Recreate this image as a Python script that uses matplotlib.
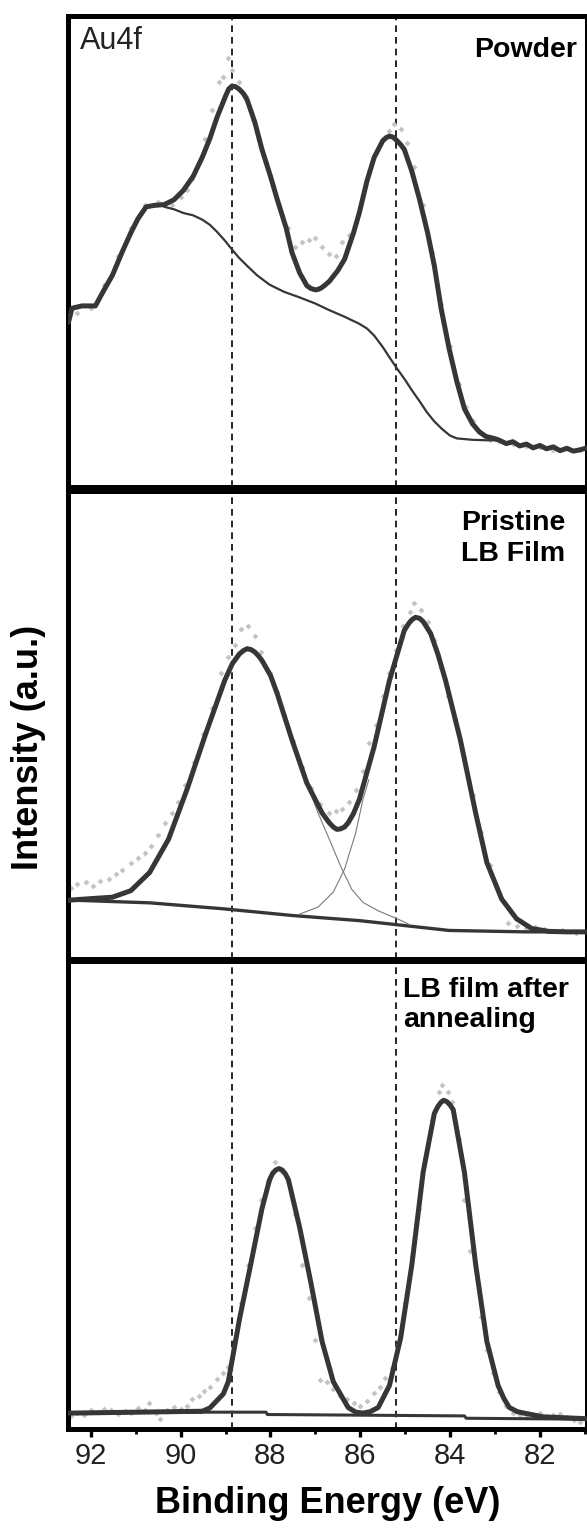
"""Au4f XPS spectra: powder, pristine LB film, LB film after annealing."""
import matplotlib
matplotlib.use("Agg")
import matplotlib.pyplot as plt
from matplotlib.ticker import MultipleLocator

plt.rcParams['font.family'] = ['Liberation Sans', 'DejaVu Sans']

# reference binding energies (dashed lines), eV
ref_lines = [88.85, 85.2]

# ---- panel 1: powder (intensity normalised to panel height) ----
p1_env_e = [92.50, 92.42, 92.20, 91.90, 91.70, 91.52, 91.30, 91.11, 90.95, 90.77,
            90.60, 90.36, 90.15, 89.94, 89.72, 89.52, 89.35, 89.19, 89.00, 88.93,
            88.86, 88.78, 88.70, 88.60, 88.52, 88.35, 88.19, 88.00, 87.85, 87.65,
            87.52, 87.35, 87.19, 87.10, 87.00, 86.94, 86.87, 86.80, 86.69, 86.50,
            86.35, 86.15, 86.02, 85.85, 85.69, 85.50, 85.42, 85.35, 85.27, 85.20,
            85.10, 85.02, 84.85, 84.68, 84.50, 84.35, 84.20, 84.02, 83.85, 83.68,
            83.50, 83.35, 83.20, 83.02, 82.90, 82.75, 82.60, 82.45, 82.30, 82.15,
            82.00, 81.85, 81.70, 81.55, 81.40, 81.25, 81.10, 80.95]
p1_env_i = [0.350, 0.380, 0.385, 0.385, 0.420, 0.450, 0.500, 0.540, 0.570, 0.595,
            0.598, 0.600, 0.610, 0.630, 0.660, 0.700, 0.740, 0.785, 0.830, 0.845,
            0.851, 0.850, 0.845, 0.835, 0.822, 0.775, 0.717, 0.660, 0.611, 0.550,
            0.498, 0.455, 0.428, 0.422, 0.419, 0.420, 0.423, 0.428, 0.437, 0.460,
            0.484, 0.540, 0.583, 0.650, 0.700, 0.735, 0.742, 0.745, 0.743, 0.737,
            0.727, 0.717, 0.670, 0.611, 0.540, 0.470, 0.380, 0.294, 0.225, 0.167,
            0.135, 0.118, 0.108, 0.104, 0.100, 0.093, 0.097, 0.088, 0.092, 0.084,
            0.089, 0.082, 0.086, 0.078, 0.083, 0.077, 0.080, 0.084]
p1_bg_e = [90.36, 90.15, 89.94, 89.72, 89.52, 89.35, 89.19, 89.02, 88.86, 88.70,
           88.52, 88.30, 88.02, 87.70, 87.35, 87.00, 86.69, 86.35, 86.02, 85.85,
           85.69, 85.50, 85.35, 85.18, 85.00, 84.85, 84.68, 84.52, 84.35, 84.18,
           84.00, 83.85, 83.50, 83.18, 82.95]
p1_bg_i = [0.595, 0.590, 0.582, 0.577, 0.568, 0.557, 0.542, 0.524, 0.505, 0.487,
           0.470, 0.450, 0.430, 0.415, 0.403, 0.390, 0.376, 0.362, 0.347, 0.337,
           0.322, 0.298, 0.276, 0.252, 0.228, 0.206, 0.183, 0.160, 0.140, 0.124,
           0.110, 0.104, 0.101, 0.100, 0.100]
p1_raw_e = [92.30, 92.00, 91.70, 91.40, 91.10, 90.80, 90.50, 90.20, 90.00, 89.85,
            89.75, 89.60, 89.45, 89.30, 89.15, 89.05, 88.95, 88.85, 88.70, 88.55,
            88.40, 88.25, 88.10, 87.95, 87.80, 87.60, 87.45, 87.30, 87.15, 87.00,
            86.85, 86.70, 86.55, 86.40, 86.25, 86.10, 85.95, 85.80, 85.65, 85.50,
            85.35, 85.25, 85.10, 84.95, 84.80, 84.60, 84.40, 84.20, 84.00, 83.80,
            83.65, 83.50, 83.30, 83.10, 82.90, 82.60, 82.30, 82.00, 81.70, 81.40, 81.10]
p1_raw_i = [0.370, 0.380, 0.430, 0.490, 0.550, 0.600, 0.605, 0.600, 0.615, 0.630,
            0.655, 0.690, 0.740, 0.800, 0.860, 0.870, 0.910, 0.885, 0.860, 0.830,
            0.780, 0.740, 0.690, 0.640, 0.600, 0.550, 0.510, 0.520, 0.525, 0.530,
            0.510, 0.495, 0.490, 0.520, 0.535, 0.560, 0.620, 0.670, 0.710, 0.740,
            0.755, 0.770, 0.760, 0.730, 0.680, 0.600, 0.500, 0.390, 0.300, 0.220,
            0.170, 0.140, 0.115, 0.100, 0.098, 0.092, 0.088, 0.085, 0.080, 0.083, 0.079]

# ---- panel 2: pristine LB film ----
p2_env_e = [92.50, 92.44, 92.00, 91.52, 91.11, 90.69, 90.27, 89.86, 89.44, 89.02,
            88.85, 88.69, 88.60, 88.52, 88.43, 88.35, 88.27, 88.19, 88.00, 87.85,
            87.52, 87.19, 86.85, 86.69, 86.60, 86.52, 86.44, 86.35, 86.27, 86.15,
            86.02, 85.69, 85.35, 85.02, 84.92, 84.85, 84.77, 84.68, 84.60, 84.52,
            84.43, 84.27, 84.10, 83.77, 83.43, 83.18, 82.85, 82.52, 82.18, 81.80,
            81.40, 80.95]
p2_env_i = [0.124, 0.125, 0.128, 0.131, 0.145, 0.184, 0.255, 0.361, 0.481, 0.594,
            0.630, 0.651, 0.658, 0.662, 0.660, 0.655, 0.647, 0.637, 0.605, 0.566,
            0.467, 0.375, 0.311, 0.290, 0.281, 0.276, 0.277, 0.281, 0.290, 0.310,
            0.340, 0.453, 0.594, 0.701, 0.716, 0.724, 0.729, 0.727, 0.720, 0.708,
            0.694, 0.650, 0.594, 0.467, 0.311, 0.205, 0.127, 0.085, 0.064, 0.058,
            0.057, 0.057]
p2_bg_e = [92.50, 90.69, 89.02, 87.52, 86.02, 85.35, 84.02, 82.35, 80.95]
p2_bg_i = [0.125, 0.119, 0.106, 0.092, 0.081, 0.074, 0.060, 0.057, 0.057]
p2_c1_e = [87.19, 86.94, 86.69, 86.44, 86.19, 85.94, 85.60, 85.18, 84.93]
p2_c1_i = [0.375, 0.311, 0.255, 0.198, 0.148, 0.120, 0.102, 0.085, 0.074]
p2_c2_e = [85.81, 85.94, 86.10, 86.35, 86.60, 86.94, 87.35]
p2_c2_i = [0.382, 0.340, 0.269, 0.191, 0.142, 0.110, 0.095]
p2_raw_e = [92.45, 92.30, 92.10, 91.95, 91.80, 91.60, 91.45, 91.30, 91.10, 90.95,
            90.80, 90.65, 90.50, 90.35, 90.20, 90.05, 89.90, 89.70, 89.50, 89.30,
            89.10, 88.95, 88.80, 88.65, 88.50, 88.35, 88.20, 88.00, 87.85, 87.70,
            87.50, 87.30, 87.10, 86.90, 86.70, 86.55, 86.40, 86.25, 86.10, 85.95,
            85.80, 85.65, 85.50, 85.35, 85.20, 85.05, 84.90, 84.80, 84.65, 84.50,
            84.35, 84.20, 84.05, 83.90, 83.70, 83.50, 83.30, 83.10, 82.90, 82.70,
            82.50, 82.30, 82.10, 81.90, 81.70, 81.50, 81.20]
p2_raw_i = [0.150, 0.160, 0.163, 0.155, 0.165, 0.170, 0.180, 0.190, 0.205, 0.215,
            0.225, 0.240, 0.265, 0.290, 0.310, 0.335, 0.370, 0.420, 0.480, 0.535,
            0.610, 0.645, 0.670, 0.705, 0.710, 0.690, 0.655, 0.610, 0.570, 0.520,
            0.465, 0.410, 0.365, 0.330, 0.310, 0.315, 0.320, 0.335, 0.360, 0.400,
            0.460, 0.500, 0.560, 0.610, 0.660, 0.710, 0.740, 0.760, 0.745, 0.720,
            0.680, 0.620, 0.560, 0.510, 0.430, 0.350, 0.270, 0.200, 0.140, 0.075,
            0.070, 0.065, 0.068, 0.063, 0.058, 0.060, 0.055]

# ---- panel 3: LB film after annealing ----
p3_env_e = [92.50, 92.44, 89.52, 89.35, 89.19, 89.05, 88.94, 88.69, 88.44, 88.19,
            88.02, 87.95, 87.88, 87.81, 87.74, 87.67, 87.60, 87.35, 87.10, 86.85,
            86.60, 86.27, 86.10, 85.94, 85.78, 85.60, 85.35, 85.10, 84.85, 84.60,
            84.35, 84.27, 84.20, 84.14, 84.07, 84.00, 83.93, 83.68, 83.43, 83.18,
            82.93, 82.80, 82.68, 82.50, 82.35, 81.93, 80.95]
p3_env_i = [0.034, 0.034, 0.038, 0.045, 0.061, 0.075, 0.101, 0.235, 0.352, 0.471,
            0.533, 0.547, 0.554, 0.557, 0.554, 0.546, 0.533, 0.431, 0.313, 0.187,
            0.101, 0.046, 0.036, 0.034, 0.037, 0.046, 0.093, 0.195, 0.352, 0.549,
            0.675, 0.690, 0.699, 0.703, 0.700, 0.693, 0.683, 0.549, 0.352, 0.187,
            0.093, 0.065, 0.046, 0.037, 0.034, 0.026, 0.022]
p3_bg_e = [92.50, 89.52, 88.10, 88.07, 83.68, 83.64, 80.95]
p3_bg_i = [0.034, 0.036, 0.036, 0.031, 0.028, 0.023, 0.021]
p3_raw_e = [92.45, 92.30, 92.15, 92.00, 91.85, 91.70, 91.55, 91.40, 91.25, 91.10,
            90.95, 90.80, 90.70, 90.55, 90.45, 90.30, 90.15, 90.00, 89.85, 89.75,
            89.60, 89.48, 89.35, 89.20, 89.05, 88.94, 88.80, 88.65, 88.50, 88.35,
            88.20, 88.05, 87.90, 87.75, 87.60, 87.45, 87.30, 87.15, 87.00, 86.89,
            86.75, 86.60, 86.45, 86.30, 86.15, 86.00, 85.85, 85.70, 85.55, 85.44,
            85.30, 85.15, 85.00, 84.85, 84.70, 84.55, 84.40, 84.25, 84.18, 84.05,
            83.95, 83.80, 83.68, 83.55, 83.43, 83.30, 83.18, 83.05, 82.90, 82.75,
            82.60, 82.45, 82.30, 82.15, 82.00, 81.85, 81.70, 81.55, 81.40, 81.25, 81.10]
p3_raw_i = [0.028, 0.035, 0.030, 0.040, 0.036, 0.042, 0.040, 0.033, 0.038, 0.034,
            0.045, 0.040, 0.055, 0.035, 0.022, 0.040, 0.046, 0.042, 0.050, 0.065,
            0.070, 0.081, 0.090, 0.108, 0.120, 0.133, 0.190, 0.270, 0.350, 0.430,
            0.490, 0.530, 0.572, 0.550, 0.530, 0.460, 0.350, 0.280, 0.190, 0.105,
            0.100, 0.085, 0.070, 0.065, 0.055, 0.050, 0.060, 0.077, 0.090, 0.109,
            0.130, 0.180, 0.270, 0.370, 0.470, 0.580, 0.660, 0.720, 0.735, 0.720,
            0.700, 0.620, 0.490, 0.380, 0.340, 0.240, 0.170, 0.120, 0.080, 0.050,
            0.035, 0.030, 0.025, 0.030, 0.034, 0.028, 0.030, 0.032, 0.025, 0.020, 0.015]

ENV_C = "#363636"
RAW_C = "#c4c4c4"

fig = plt.figure(figsize=(5.87, 15.29), dpi=100)
left, width = 0.1158, 0.8842
ax1 = fig.add_axes([left, 0.6812, width, 0.3084])
ax2 = fig.add_axes([left, 0.3731, width, 0.3061])
ax3 = fig.add_axes([left, 0.0654, width, 0.3058])

panels = [
    (ax1, p1_raw_e, p1_raw_i, p1_env_e, p1_env_i),
    (ax2, p2_raw_e, p2_raw_i, p2_env_e, p2_env_i),
    (ax3, p3_raw_e, p3_raw_i, p3_env_e, p3_env_i),
]
for ax, re, ri, ee, ei in panels:
    ax.plot(re, ri, linestyle="none", marker="D", ms=3, color=RAW_C,
            markeredgewidth=0, zorder=2)
    ax.plot(ee, ei, color=ENV_C, lw=3.6, solid_joinstyle="round",
            solid_capstyle="round", zorder=4)
    for e in ref_lines:
        ax.axvline(e, color="black", lw=1.2, linestyle=(0, (4, 3)), zorder=1)
    ax.set_xlim(92.51, 80.95)
    ax.set_ylim(0, 1)
    ax.set_yticks([])
    for sp in ax.spines.values():
        sp.set_linewidth(3.6)

ax1.plot(p1_bg_e, p1_bg_i, color=ENV_C, lw=1.6, zorder=3)
ax2.plot(p2_bg_e, p2_bg_i, color=ENV_C, lw=2.4, zorder=3)
ax2.plot(p2_c1_e, p2_c1_i, color="#7a7a7a", lw=0.8, zorder=3)
ax2.plot(p2_c2_e, p2_c2_i, color="#7a7a7a", lw=0.8, zorder=3)
ax3.plot(p3_bg_e, p3_bg_i, color=ENV_C, lw=2.2, zorder=3)

for ax in (ax1, ax2):
    ax.set_xticks([])

ax3.xaxis.set_major_locator(MultipleLocator(2))
ax3.xaxis.set_minor_locator(MultipleLocator(1))
ax3.tick_params(axis="x", which="major", direction="out", length=6, width=2.4,
                labelsize=21, pad=3, labelcolor="#222222")
ax3.tick_params(axis="x", which="minor", direction="out", length=3.5, width=2.0)

ax1.text(0.023, 0.946, "Au4f", transform=ax1.transAxes, fontsize=22,
         ha="left", va="center", color="#222222")
ax1.text(0.981, 0.928, "Powder", transform=ax1.transAxes, fontsize=20.5,
         fontweight="bold", ha="right", va="center")
ax2.text(0.757, 0.897, "Pristine\nLB Film", transform=ax2.transAxes, fontsize=20.5,
         fontweight="bold", ha="left", va="center", linespacing=1.25)
ax3.text(0.645, 0.907, "LB film after\nannealing", transform=ax3.transAxes,
         fontsize=20.5, fontweight="bold", ha="left", va="center", linespacing=1.2)

fig.text(0.048, 0.511, "Intensity (a.u.)", rotation=90, fontsize=26,
         fontweight="bold", ha="center", va="center")
fig.text(0.559, 0.017, "Binding Energy (eV)", fontsize=26, fontweight="bold",
         ha="center", va="center")

fig.savefig("out.png", dpi=100)
plt.close(fig)
